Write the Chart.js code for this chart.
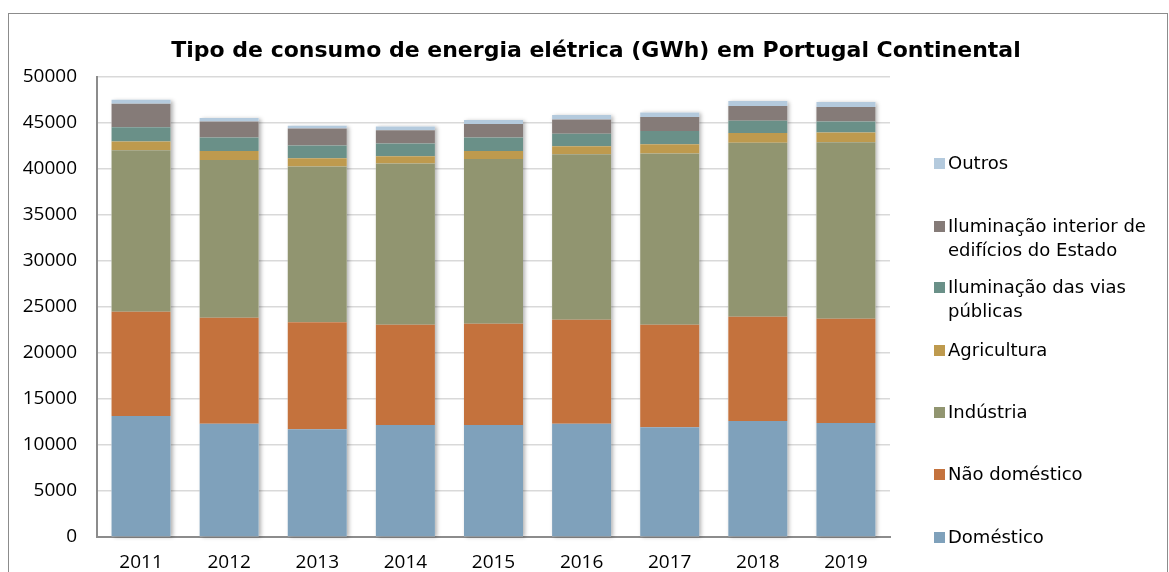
<!DOCTYPE html>
<html lang="pt">

<head>
    <meta charset="UTF-8">
    <title>Tipo de consumo de energia elétrica</title>
    <style>
        body {
            margin: 0;
            background-color: white;
        }

        #wrap {
            position: relative;
            width: 1169px;
            height: 572px;
            overflow: hidden;
        }

        #frame {
            position: absolute;
            left: 8px;
            top: 13px;
            width: 1158px;
            height: 600px;
            border: 1.5px solid #8c8c8c;
            pointer-events: none;
        }

        #legend {
            position: absolute;
            left: 0;
            top: 0;
            font-family: "DejaVu Sans", sans-serif;
            font-size: 18px;
            line-height: 24px;
            color: #000;
        }

        .item {
            position: absolute;
            left: 934px;
            width: 232px;
        }

        .box {
            position: absolute;
            left: 0;
            top: 7px;
            width: 11px;
            height: 11px;
        }

        .txt {
            position: absolute;
            left: 14px;
            width: 218px;
        }
    </style>
</head>

<body>
    <div id="wrap">
        <canvas id="myChart" width="1169" height="572"></canvas>
        <div id="legend"></div>
        <div id="frame"></div>
    </div>
    <script src="https://cdn.jsdelivr.net/npm/chart.js"></script>
    <script>
        // values (GWh)
        const years = ['2011', '2012', '2013', '2014', '2015', '2016', '2017', '2018', '2019'];
        const domestico = [13150, 12320, 11700, 12170, 12170, 12320, 11920, 12610, 12390];
        const naoDomestico = [11340, 11520, 11640, 10910, 11000, 11300, 11160, 11340, 11340];
        const industria = [17560, 17150, 16930, 17520, 17930, 17990, 18610, 18890, 19190];
        const agricultura = [950, 980, 910, 790, 870, 870, 1010, 1060, 1050];
        const viasPublicas = [1550, 1460, 1380, 1390, 1460, 1350, 1420, 1340, 1200];
        const edificiosEstado = [2540, 1740, 1850, 1420, 1450, 1560, 1520, 1600, 1560];
        const outros = [440, 360, 290, 430, 440, 470, 510, 550, 550];
        const yTicks = [0, 5000, 10000, 15000, 20000, 25000, 30000, 35000, 40000, 45000, 50000];
        const chartTitle = 'Tipo de consumo de energia elétrica (GWh) em Portugal Continental';

        const ctx = document.getElementById('myChart');

        // one soft shadow per whole stacked bar, drawn under the segments
        const barShadow = {
            id: 'barShadow',
            beforeDatasetsDraw(chart) {
                const c = chart.ctx;
                const first = chart.getDatasetMeta(0).data;
                const last = chart.getDatasetMeta(chart.data.datasets.length - 1).data;
                c.save();
                c.shadowColor = 'rgba(0, 0, 0, 0.3)';
                c.shadowBlur = 4;
                c.shadowOffsetX = 2;
                c.shadowOffsetY = 1;
                c.fillStyle = '#ffffff';
                first.forEach((bar, i) => {
                    const top = last[i].y;
                    c.fillRect(bar.x - bar.width / 2, top, bar.width, bar.base - top);
                });
                c.restore();
            }
        };

        // title centred like the reference (over the whole frame, not the plot)
        const titleText = {
            id: 'titleText',
            afterDraw(chart) {
                const c = chart.ctx;
                c.save();
                c.font = 'bold 22px "DejaVu Sans"';
                c.fillStyle = '#000';
                c.textAlign = 'center';
                c.textBaseline = 'middle';
                c.fillText(chartTitle, 596, 51);
                c.restore();
            }
        };

        function bars(label, data, color) {
            return {
                label: label,
                data: data,
                backgroundColor: color,
                borderWidth: 0,
                categoryPercentage: 1,
                barPercentage: 0.67
            };
        }

        const chart = new Chart(ctx, {
            type: 'bar',
            data: {
                labels: years,
                datasets: [
                    bars('Doméstico', domestico, '#7FA1BB'),
                    bars('Não doméstico', naoDomestico, '#C4723D'),
                    bars('Indústria', industria, '#919570'),
                    bars('Agricultura', agricultura, '#BE9A4E'),
                    bars('Iluminação das vias públicas', viasPublicas, '#6A9088'),
                    bars('Iluminação interior de edifícios do Estado', edificiosEstado, '#857B78'),
                    bars('Outros', outros, '#B4CADD')
                ]
            },
            plugins: [barShadow, titleText],
            options: {
                responsive: false,
                animation: false,
                layout: {
                    padding: { left: 0, right: 279, top: 77, bottom: 0 }
                },
                plugins: {
                    legend: { display: false },
                    tooltip: { enabled: false },
                    title: { display: false }
                },
                scales: {
                    x: {
                        stacked: true,
                        grid: { display: false },
                        border: { color: '#8c8c8c', width: 2 },
                        ticks: {
                            color: '#000',
                            font: { family: 'Open Sans', size: 19 },
                            padding: 6
                        },
                        afterFit(scale) { scale.height = 35; }
                    },
                    y: {
                        stacked: true,
                        min: 0,
                        max: 50000,
                        afterBuildTicks(scale) {
                            scale.ticks = yTicks.map(v => ({ value: v }));
                        },
                        grid: { color: '#d9d9d9', lineWidth: 1.5, drawTicks: false },
                        border: { color: '#8c8c8c', width: 2 },
                        ticks: {
                            color: '#000',
                            font: { family: 'Open Sans', size: 19 },
                            padding: 20,
                            callback: function (value) {
                                return String(value);
                            }
                        },
                        afterFit(scale) { scale.width = 97; }
                    }
                }
            }
        });

        // legend on the right, top item = last series, like the reference
        const legendTops = [163, 226, 287, 350, 412, 474, 537];
        const legendEl = document.getElementById('legend');
        chart.data.datasets.slice().reverse().forEach((ds, i) => {
            const item = document.createElement('div');
            item.className = 'item';
            item.style.top = (legendTops[i] - 12) + 'px';
            const box = document.createElement('div');
            box.className = 'box';
            box.style.background = ds.backgroundColor;
            const txt = document.createElement('div');
            txt.className = 'txt';
            txt.textContent = ds.label;
            item.appendChild(box);
            item.appendChild(txt);
            legendEl.appendChild(item);
        });
    </script>
</body>

</html>
